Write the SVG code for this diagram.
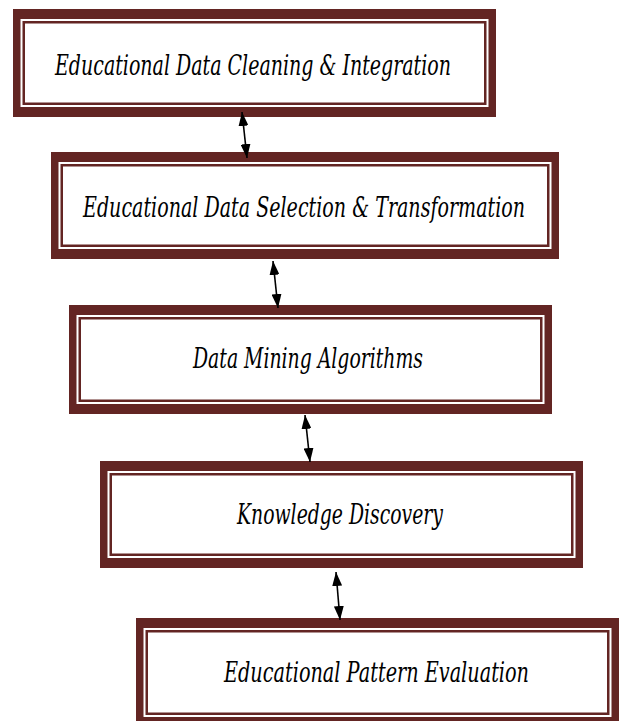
<svg xmlns="http://www.w3.org/2000/svg" width="619" height="721" viewBox="0 0 619 721">
<defs>
<style>
.band{fill:#632523}
.gap{fill:#ffffff}
.thin{fill:none;stroke:#632523;stroke-width:2.5}
.lbl{font-family:"DejaVu Serif","Liberation Serif",serif;font-style:italic;font-size:28px;fill:#000000}
.conn{stroke:#000000;stroke-width:1.6;fill:none;marker-start:url(#ah);marker-end:url(#ah)}
</style>
<marker id="ah" viewBox="0 0 14 10" refX="14" refY="5" markerWidth="14" markerHeight="10" markerUnits="userSpaceOnUse" orient="auto-start-reverse">
<path d="M0,0 L14,5 L0,10 z" fill="#000000"/>
</marker>
</defs>
<rect width="619" height="721" fill="#ffffff"/>
<g id="node1">
<rect class="band" x="13" y="9" width="483" height="108"/>
<rect class="gap" x="20.5" y="19" width="468" height="88"/>
<rect class="thin" x="23.75" y="22.25" width="461.5" height="81.5"/>
<text class="lbl" x="55" y="75" textLength="396" lengthAdjust="spacingAndGlyphs">Educational Data Cleaning &amp; Integration</text>
</g>
<g id="node2">
<rect class="band" x="51" y="152" width="508" height="107"/>
<rect class="gap" x="58.5" y="162" width="493" height="87"/>
<rect class="thin" x="61.75" y="165.25" width="486.5" height="80.5"/>
<text class="lbl" x="83" y="217" textLength="442" lengthAdjust="spacingAndGlyphs">Educational Data Selection &amp; Transformation</text>
</g>
<g id="node3">
<rect class="band" x="69" y="305" width="483" height="109"/>
<rect class="gap" x="76.5" y="315" width="468" height="89"/>
<rect class="thin" x="79.75" y="318.25" width="461.5" height="82.5"/>
<text class="lbl" x="193" y="368" textLength="230" lengthAdjust="spacingAndGlyphs">Data Mining Algorithms</text>
</g>
<g id="node4">
<rect class="band" x="100" y="461" width="483" height="107"/>
<rect class="gap" x="107.5" y="471" width="468" height="87"/>
<rect class="thin" x="110.75" y="474.25" width="461.5" height="80.5"/>
<text class="lbl" x="237" y="524" textLength="206" lengthAdjust="spacingAndGlyphs">Knowledge Discovery</text>
</g>
<g id="node5">
<rect class="band" x="136" y="618" width="483" height="109"/>
<rect class="gap" x="143.5" y="628" width="468" height="89"/>
<rect class="thin" x="146.75" y="631.25" width="461.5" height="82.5"/>
<text class="lbl" x="224" y="682" textLength="305" lengthAdjust="spacingAndGlyphs">Educational Pattern Evaluation</text>
</g>
<g id="connectors">
<line class="conn" x1="242" y1="112" x2="247" y2="158"/>
<line class="conn" x1="273" y1="261" x2="278" y2="308"/>
<line class="conn" x1="305" y1="415" x2="310" y2="462"/>
<line class="conn" x1="336" y1="572" x2="340" y2="620"/>
</g>
</svg>
